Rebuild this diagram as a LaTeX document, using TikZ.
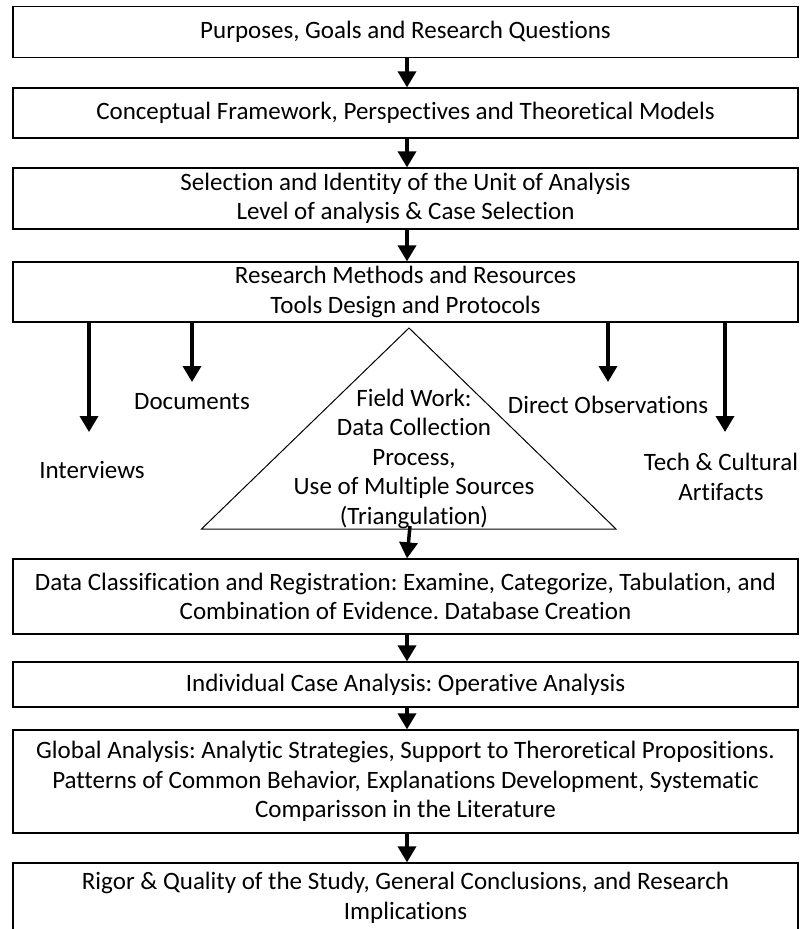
\documentclass[tikz,border=0pt]{standalone}
\usepackage{fontspec}
\setmainfont{Carlito}[Ligatures={NoCommon}]
\frenchspacing
\usetikzlibrary{arrows.meta}
\tikzset{
 txt/.style={font=\fontsize{25}{29.5}\selectfont},
 box/.style={txt, draw, line width=1.3pt, minimum width=785pt, inner sep=0pt, align=center},
 lbl/.style={txt, inner sep=0pt, align=center},
 arr/.style={line width=3.5pt, -{Triangle[length=16pt,width=18pt]}},
}
\begin{document}
\begin{tikzpicture}[x=1pt,y=-1pt]
\clip (0,0) rectangle (800,929);
\fill[white] (0,0) rectangle (800,929);
\node[box, minimum height=50.5pt] (b1) at (405.5,32) {Purposes, Goals and Research Questions};
\node[box, minimum height=50pt] (b2) at (405.5,113) {Conceptual Framework, Perspectives and Theoretical Models};
\node[box, minimum height=61pt] (b3) at (405.5,198.5) {Selection and Identity of the Unit of Analysis\\Level of analysis \& Case Selection};
\node[box, minimum height=60pt] (b4) at (405.5,292) {Research Methods and Resources\\Tools Design and Protocols};
\node[box, minimum height=75pt] (b5) at (405.5,596.5) {Data Classification and Registration: Examine, Categorize, Tabulation, and\\Combination of Evidence. Database Creation};
\node[box, minimum height=45pt] (b6) at (405.5,684.5) {Individual Case Analysis: Operative Analysis};
\node[box, minimum height=103pt] (b7) at (405.5,781.5) {Global Analysis: Analytic Strategies, Support to Theroretical Propositions.\\Patterns of Common Behavior, Explanations Development, Systematic\\Comparisson in the Literature};
\node[box, minimum height=70pt] (b8) at (405.5,898) {Rigor \& Quality of the Study, General Conclusions, and Research\\Implications};

% triangle
\coordinate (tA) at (409,328);
\coordinate (tL) at (201.5,529);
\coordinate (tR) at (616,529);
\coordinate (tB) at (410,526);
\draw[line width=1pt, line join=miter] (tA) -- (tL) -- (tR) -- cycle;
\node[lbl] (tri) at (414,458.5) {Field Work:\\Data Collection\\Process,\\Use of Multiple Sources\\(Triangulation)};

% side labels
\node[lbl] (lI) at (92,470) {Interviews};
\node[lbl] (lD) at (192,402) {Documents};
\node[lbl] (lO) at (608,405) {Direct Observations};
\node[lbl] (lT) at (721,477) {Tech \& Cultural\\Artifacts};
\coordinate (eI) at (89,432);
\coordinate (eD) at (192,382);
\coordinate (eO) at (608,382);
\coordinate (eT) at (725,432);

% arrows
\draw[arr] ([xshift=1.5pt]b1.south) -- ([xshift=1.5pt]b2.north);
\draw[arr] ([xshift=1.5pt]b2.south) -- ([xshift=1.5pt]b3.north);
\draw[arr] ([xshift=1.5pt]b3.south) -- ([xshift=1.5pt]b4.north);
\draw[arr] (b4.south -| eI) -- (eI);
\draw[arr] (b4.south -| eD) -- (eD);
\draw[arr] (b4.south -| eO) -- (eO);
\draw[arr] (b4.south -| eT) -- (eT);
\draw[arr] (tB) -- ([xshift=1.5pt]b5.north);
\draw[arr] ([xshift=1.5pt]b5.south) -- ([xshift=1.5pt]b6.north);
\draw[arr] ([xshift=1.5pt]b6.south) -- ([xshift=1.5pt]b7.north);
\draw[arr] ([xshift=1.5pt]b7.south) -- ([xshift=1.5pt]b8.north);
\end{tikzpicture}
\end{document}
